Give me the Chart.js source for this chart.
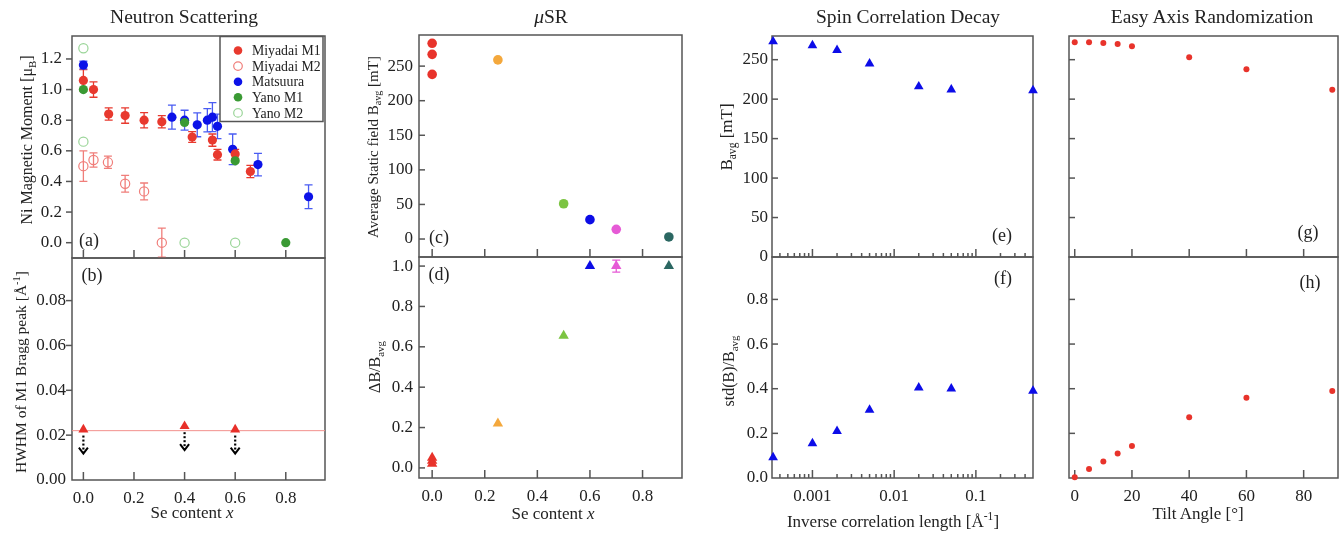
<!DOCTYPE html>
<html>
<head>
<meta charset="utf-8">
<script src="https://cdn.jsdelivr.net/npm/chart.js@4"></script>
<style>
  html, body { margin: 0; background: #fff; overflow: hidden; }
  #page { position: relative; width: 1344px; height: 534px; overflow: hidden;
          font-family: "Liberation Serif", "Times New Roman", serif; color: #222; }
  canvas { position: absolute; }
  .t { position: absolute; white-space: nowrap; transform: translate(-50%, -50%); line-height: 1; }
  .rot { transform: translate(-50%, -50%) rotate(-90deg); }
  sub { font-size: 68%; vertical-align: -0.35em; line-height: 0; }
  sup { font-size: 68%; vertical-align: 0.55em; line-height: 0; }
</style>
</head>
<body>
<div id="page"></div>
<script>
const FONT = '"Liberation Serif", "Times New Roman", serif';

// ---- (a) Ni magnetic moment vs Se content ----
const miyM1X = [0, 0.04, 0.10, 0.165, 0.24, 0.31, 0.43, 0.51, 0.53, 0.60, 0.66];
const miyM1Y = [1.06, 1.00, 0.84, 0.83, 0.80, 0.79, 0.69, 0.67, 0.575, 0.58, 0.465];
const miyM1Err = [0.07, 0.05, 0.04, 0.05, 0.05, 0.04, 0.035, 0.04, 0.035, 0.03, 0.04];

const miyM2X = [0, 0.04, 0.097, 0.165, 0.24, 0.31];
const miyM2Y = [0.50, 0.54, 0.525, 0.385, 0.335, 0.0];
const miyM2Err = [0.10, 0.046, 0.04, 0.055, 0.055, 0.095];

const matsX = [0, 0.35, 0.40, 0.45, 0.49, 0.51, 0.53, 0.59, 0.69, 0.89];
const matsY = [1.16, 0.82, 0.80, 0.77, 0.80, 0.82, 0.76, 0.61, 0.51, 0.30];
const matsErr = [0.025, 0.078, 0.065, 0.078, 0.076, 0.095, 0.08, 0.10, 0.073, 0.078];

const yanoM1X = [0, 0.4, 0.6, 0.8];
const yanoM1Y = [1.0, 0.785, 0.535, 0.0];

const yanoM2X = [0, 0, 0.4, 0.6];
const yanoM2Y = [1.27, 0.66, 0.0, 0.0];

// ---- (b) HWHM of M1 Bragg peak ----
const hwhmX = [0, 0.4, 0.6];
const hwhmY = [0.0225, 0.024, 0.0225];
const hwhmLimit = 0.022;

// ---- (c)/(d) muSR ----
const muX = [0, 0, 0, 0.25, 0.5, 0.6, 0.7, 0.9];
const muBavg = [283, 267, 238, 259, 51, 28, 14, 3];
const muDB = [0.05, 0.035, 0.02, 0.22, 0.655, 1.0, 1.0, 1.0];
const muDBErr = [0, 0, 0, 0, 0, 0, 0.03, 0];
const muColors = ['#e8332b', '#e8332b', '#e8332b', '#f4a83c', '#7cc442', '#0c0ce6', '#e65ad6', '#2b6762'];

// ---- (e)/(f) spin correlation decay ----
const corrX = [0.00033, 0.001, 0.002, 0.005, 0.02, 0.05, 0.5];
const corrB = [273, 268, 262, 245, 216, 212, 211];
const corrStd = [0.092, 0.155, 0.21, 0.305, 0.405, 0.40, 0.39];

// ---- (g)/(h) easy axis randomization ----
const tiltX = [0, 5, 10, 15, 20, 40, 60, 90];
const tiltB = [272, 272, 271, 270, 267, 253, 238, 212];
const tiltStd = [0.003, 0.04, 0.074, 0.11, 0.143, 0.272, 0.36, 0.39];

// ---- tick labels ----
const seTicks = [0, 0.2, 0.4, 0.6, 0.8];
const momentTicks = [0, 0.2, 0.4, 0.6, 0.8, 1.0, 1.2];
const hwhmTicks = [0, 0.02, 0.04, 0.06, 0.08];
const fieldTicks = [0, 50, 100, 150, 200, 250];
const ratioTicks = [0, 0.2, 0.4, 0.6, 0.8, 1.0];
const stdTicks = [0, 0.2, 0.4, 0.6, 0.8];
const tiltTicks = [0, 20, 40, 60, 80];
const corrLabels = [0.001, 0.01, 0.1];

const corrTicks = [];
[0.0001, 0.001, 0.01, 0.1].forEach(d => {
  for (let m = 1; m <= 9; m++) {
    const v = +(d * m).toPrecision(3);
    if (v > 0.00033 && v < 0.5) corrTicks.push({ value: v, major: m === 1 });
  }
});

const pts = (xs, ys) => xs.map((x, i) => ({ x: x, y: ys[i] }));

// frame round the plot area plus tick marks
const frame = {
  id: 'frame',
  beforeDatasetsDraw(chart, args, opts) {
    const { ctx, chartArea: ca } = chart;
    ctx.save();
    ctx.strokeStyle = '#555';
    ctx.lineWidth = 1.5;
    ctx.strokeRect(ca.left, ca.top, ca.right - ca.left, ca.bottom - ca.top);
    const xs = chart.scales.x, ys = chart.scales.y;
    xs.ticks.forEach(t => {
      const p = xs.getPixelForValue(t.value);
      if (p < ca.left + 1 || p > ca.right - 1) return;
      const len = t.major === false ? 4 : 8;
      ctx.beginPath(); ctx.moveTo(p, ca.bottom); ctx.lineTo(p, ca.bottom - len); ctx.stroke();
    });
    ys.ticks.forEach(t => {
      const p = ys.getPixelForValue(t.value);
      if (p < ca.top + 1 || p > ca.bottom - 1) return;
      const dir = opts.yOut ? -1 : 1;
      ctx.beginPath(); ctx.moveTo(ca.left, p); ctx.lineTo(ca.left + dir * 6, p); ctx.stroke();
    });
    ctx.restore();
  }
};

const errorBars = {
  id: 'errorBars',
  beforeDatasetsDraw(chart) {
    const { ctx } = chart;
    const y = chart.scales.y;
    chart.data.datasets.forEach((ds, i) => {
      if (!ds.errors) return;
      ctx.save();
      ctx.lineWidth = 1.3;
      chart.getDatasetMeta(i).data.forEach((pt, j) => {
        const e = ds.errors[j];
        if (!e) return;
        const v = ds.data[j].y;
        const top = y.getPixelForValue(v + e), bot = y.getPixelForValue(v - e);
        ctx.strokeStyle = ds.errorColor || (Array.isArray(ds.borderColor) ? ds.borderColor[j] : ds.borderColor);
        ctx.beginPath();
        ctx.moveTo(pt.x, top); ctx.lineTo(pt.x, bot);
        ctx.moveTo(pt.x - 4, top); ctx.lineTo(pt.x + 4, top);
        ctx.moveTo(pt.x - 4, bot); ctx.lineTo(pt.x + 4, bot);
        ctx.stroke();
      });
      ctx.restore();
    });
  }
};

const arrows = {
  id: 'arrows',
  afterDatasetsDraw(chart) {
    const ctx = chart.ctx;
    chart.data.datasets.forEach((ds, i) => {
      if (!ds.arrowDown) return;
      chart.getDatasetMeta(i).data.forEach(pt => {
        ctx.save();
        ctx.strokeStyle = '#000';
        ctx.lineWidth = 2.2;
        ctx.setLineDash([2, 2]);
        ctx.beginPath(); ctx.moveTo(pt.x, pt.y + 6); ctx.lineTo(pt.x, pt.y + 23); ctx.stroke();
        ctx.setLineDash([]);
        ctx.lineWidth = 2;
        ctx.beginPath();
        ctx.moveTo(pt.x - 4.5, pt.y + 18); ctx.lineTo(pt.x, pt.y + 24); ctx.lineTo(pt.x + 4.5, pt.y + 18);
        ctx.stroke();
        ctx.restore();
      });
    });
  }
};

const legendBox = {
  id: 'legendBox',
  afterDraw(chart) {
    const { ctx, chartArea: ca } = chart;
    const w = 103, h = 85, x0 = ca.right - w - 2, y0 = ca.top + 0.5;
    ctx.save();
    ctx.fillStyle = '#fff';
    ctx.fillRect(x0, y0, w, h);
    ctx.strokeStyle = '#555';
    ctx.lineWidth = 1.5;
    ctx.strokeRect(x0, y0, w, h);
    ctx.font = '13.8px ' + FONT;
    ctx.textBaseline = 'middle';
    chart.data.datasets.forEach((ds, i) => {
      const cy = y0 + 14 + i * 15.6;
      ctx.beginPath();
      ctx.arc(x0 + 18, cy, 4.3, 0, Math.PI * 2);
      if (ds.open) { ctx.strokeStyle = ds.borderColor; ctx.lineWidth = 1.2; ctx.stroke(); }
      else { ctx.fillStyle = ds.backgroundColor; ctx.fill(); }
      ctx.fillStyle = '#222';
      ctx.fillText(ds.label, x0 + 32, cy + 1);
    });
    ctx.restore();
  }
};

function axis(min, max, ticks, fmt, size, horizontal, type, pad) {
  return {
    type: type || 'linear',
    min: min, max: max,
    bounds: 'data',
    afterBuildTicks: s => { s.ticks = ticks.map(t => typeof t === 'object' ? Object.assign({}, t) : { value: t, major: true }); },
    afterFit: s => { if (horizontal) s.height = size; else s.width = size; },
    grid: { display: false, drawTicks: false },
    border: { display: false },
    ticks: {
      display: size > 0, autoSkip: false, maxRotation: 0, minRotation: 0,
      padding: pad, color: '#222',
      font: { family: FONT, size: 17 },
      callback: fmt
    }
  };
}

const page = document.getElementById('page');

function panel(area, cfg) {
  const pad = 24;
  const yW = cfg.yW || 0, xH = cfg.xH || 0;
  const left = area[0] - yW - pad, top = area[1] - pad;
  const w = area[2] + pad - left, h = area[3] + xH + pad - top;
  const cv = document.createElement('canvas');
  cv.width = w; cv.height = h;
  cv.style.left = left + 'px'; cv.style.top = top + 'px';
  cv.style.width = w + 'px'; cv.style.height = h + 'px';
  page.appendChild(cv);
  cfg.datasets.forEach(d => { d.clip = false; });
  return new Chart(cv, {
    type: 'scatter',
    data: { datasets: cfg.datasets },
    options: {
      responsive: false, animation: false, events: [],
      layout: { padding: pad },
      plugins: { legend: { display: false }, tooltip: { enabled: false }, frame: { yOut: !!cfg.yOut } },
      scales: {
        x: axis(cfg.x[0], cfg.x[1], cfg.x[2], cfg.x[3], xH, true, cfg.x[4], 8),
        y: axis(cfg.y[0], cfg.y[1], cfg.y[2], cfg.y[3], yW, false, 'linear', cfg.yPad || 5)
      }
    },
    plugins: [frame, errorBars, arrows].concat(cfg.extra || [])
  });
}

function dot(label, xs, ys, color, r, extra) {
  return Object.assign({
    label: label, data: pts(xs, ys), pointStyle: 'circle', pointRadius: r,
    backgroundColor: color, borderColor: color, borderWidth: 0
  }, extra || {});
}
function tri(label, xs, ys, color, r, extra) {
  return Object.assign({
    label: label, data: pts(xs, ys), pointStyle: 'triangle', pointRadius: r,
    backgroundColor: color, borderColor: color, borderWidth: 0
  }, extra || {});
}

const f1 = v => v.toFixed(1), f2 = v => v.toFixed(2), fi = v => String(v);
const SE = [-0.045, 0.955];

// (a)
panel([72, 36, 325, 258], {
  yW: 60, xH: 0, yOut: true, yPad: 10,
  x: [SE[0], SE[1], seTicks, f1], y: [-0.1, 1.35, momentTicks, f1],
  extra: [legendBox],
  datasets: [
    dot('Miyadai M1', miyM1X, miyM1Y, '#e8392e', 4.6, { errors: miyM1Err, order: 3 }),
    dot('Miyadai M2', miyM2X, miyM2Y, 'rgba(0,0,0,0)', 4.6, { borderColor: '#f07e7a', borderWidth: 1.2, open: true, errors: miyM2Err, errorColor: '#f07e7a', order: 4 }),
    dot('Matsuura', matsX, matsY, '#0c12e8', 4.6, { errors: matsErr, errorColor: '#4a5cf2', order: 5 }),
    dot('Yano M1', yanoM1X, yanoM1Y, '#3a9a34', 4.6, { order: 1 }),
    dot('Yano M2', yanoM2X, yanoM2Y, 'rgba(0,0,0,0)', 4.6, { borderColor: '#9ad598', borderWidth: 1.2, open: true, order: 2 })
  ]
});

// (b)
panel([72, 258, 325, 480], {
  yW: 60, xH: 34, yOut: true, yPad: 6,
  x: [SE[0], SE[1], seTicks, f1], y: [0, 0.099, hwhmTicks, f2],
  datasets: [
    tri('HWHM', hwhmX, hwhmY, '#e8302a', 5.8, { arrowDown: true, order: 1 }),
    { label: 'limit', data: pts(SE, [hwhmLimit, hwhmLimit]), showLine: true, pointRadius: 0,
      borderColor: '#f2908c', borderWidth: 1, order: 2 }
  ]
});

// (c)
panel([419, 35, 682, 257], {
  yW: 60, xH: 0, yPad: 6,
  x: [-0.05, 0.95, seTicks, f1], y: [-26, 295, fieldTicks, fi],
  datasets: [dot('Bavg', muX, muBavg, muColors, 4.8)]
});

// (d)
panel([419, 257, 682, 478], {
  yW: 60, xH: 34, yPad: 6,
  x: [-0.05, 0.95, seTicks, f1], y: [-0.05, 1.045, ratioTicks, f1],
  datasets: [tri('dB/Bavg', muX, muDB, muColors, 6, { errors: muDBErr })]
});

// (e)
panel([772, 36, 1033, 257], {
  yW: 60, xH: 0, yPad: 4,
  x: [0.00032, 0.5, corrTicks, () => '', 'logarithmic'], y: [0, 280, fieldTicks, fi],
  datasets: [tri('Bavg', corrX, corrB, '#0c0ce8', 5.6)]
});

// (f)
panel([772, 257, 1033, 478], {
  yW: 60, xH: 34, yPad: 4,
  x: [0.00032, 0.5, corrTicks, v => corrLabels.includes(v) ? String(v) : '', 'logarithmic'],
  y: [0, 0.99, stdTicks, f1],
  datasets: [tri('std', corrX, corrStd, '#0c0ce8', 5.6)]
});

// (g)
panel([1069, 36, 1338, 257], {
  yW: 0, xH: 0,
  x: [-2, 92, tiltTicks, fi], y: [0, 280, fieldTicks, fi],
  datasets: [dot('Bavg', tiltX, tiltB, '#e8332b', 3)]
});

// (h)
panel([1069, 257, 1338, 478], {
  yW: 0, xH: 34,
  x: [-2, 92, tiltTicks, fi], y: [0, 0.99, stdTicks, f1],
  datasets: [dot('std', tiltX, tiltStd, '#e8332b', 3)]
});

// titles, axis titles and panel letters
function text(html, x, y, size, rotate, color) {
  const d = document.createElement('div');
  d.className = 't' + (rotate ? ' rot' : '');
  d.innerHTML = html;
  d.style.left = x + 'px';
  d.style.top = y + 'px';
  d.style.fontSize = size + 'px';
  if (color) d.style.color = color;
  page.appendChild(d);
}

text('Neutron Scattering', 184, 17, 19.5);
text('<i>μ</i>SR', 551, 17, 19.5);
text('Spin Correlation Decay', 908, 17, 19.5);
text('Easy Axis Randomization', 1212, 17, 19.5);

text('Ni Magnetic Moment [μ<sub>B</sub>]', 27, 140, 16, true);
text('HWHM of M1 Bragg peak [Å<sup>-1</sup>]', 21, 372, 15.5, true);
text('Average Static field B<sub>avg</sub> [mT]', 373, 147, 15, true);
text('ΔB/B<sub>avg</sub>', 375, 367, 16, true);
text('B<sub>avg</sub> [mT]', 726, 137, 17, true);
text('std(B)/B<sub>avg</sub>', 729, 371, 16, true);

text('Se content <i>x</i>', 192, 512, 17);
text('Se content <i>x</i>', 553, 513, 17);
text('Inverse correlation length [Å<sup>-1</sup>]', 893, 521, 17);
text('Tilt Angle [°]', 1198, 513, 17);

text('(a)', 89, 240, 18);
text('(b)', 92, 275, 18);
text('(c)', 439, 237, 18);
text('(d)', 439, 274, 18);
text('(e)', 1002, 235, 18);
text('(f)', 1003, 278, 18);
text('(g)', 1308, 232, 18);
text('(h)', 1310, 282, 18);
</script>
</body>
</html>
